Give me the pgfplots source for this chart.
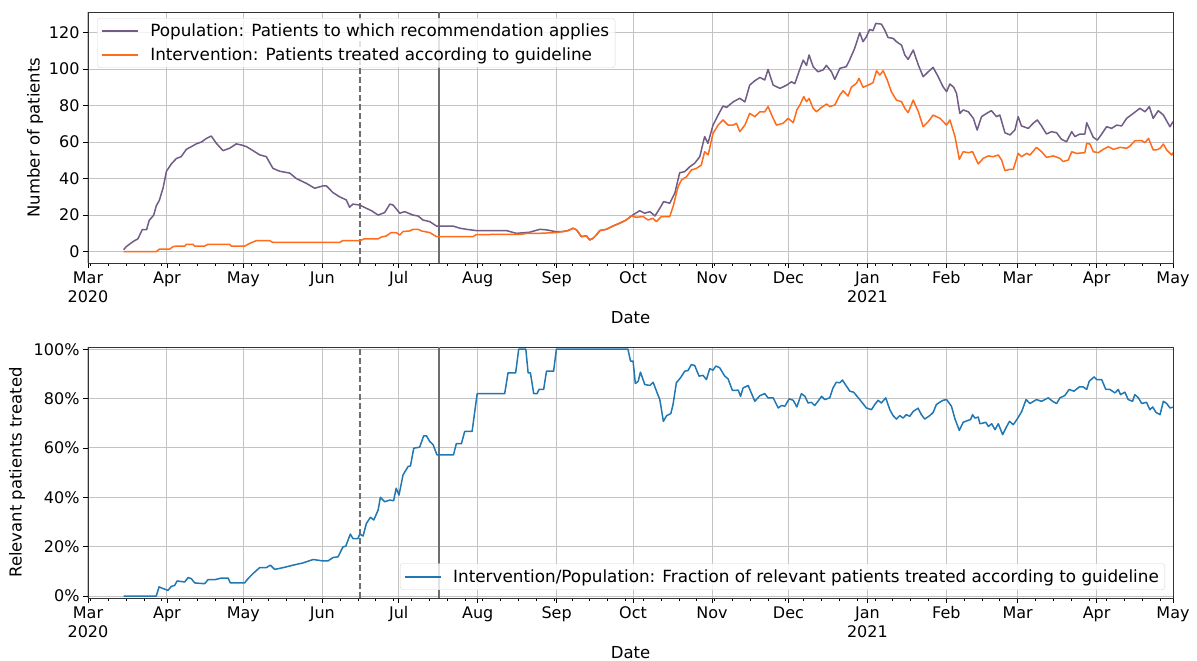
\documentclass[border=0pt]{standalone}
\usepackage{fontspec}
\setmainfont{DejaVu Sans}
\usepackage{pgfplots}
\pgfplotsset{compat=1.18}
\definecolor{popc}{RGB}{112,92,134}
\definecolor{intc}{RGB}{255,107,26}
\definecolor{fracc}{RGB}{31,119,180}
\definecolor{gridc}{RGB}{195,195,195}
\definecolor{vlc}{RGB}{110,110,110}
\definecolor{legc}{RGB}{215,215,215}

\pgfplotsset{
  myaxis/.style={
    scale only axis, width=1085pt, height=251pt,
    xmin=0, xmax=426,
    xtick={0,31,61,92,122,153,184,214,245,275,306,337,365,396,426},
    xticklabels={Mar\\2020,Apr,May,Jun,Jul,Aug,Sep,Oct,Nov,Dec,Jan\\2021,Feb,Mar,Apr,May},
    xticklabel style={align=center, anchor=north},
    minor xtick={1,8,...,425},
    xtick pos=bottom, ytick pos=left,
    tick align=outside,
    major tick length=5pt, minor tick length=3pt,
    every tick/.style={black, line width=0.8pt},
    grid=major, major grid style={gridc, line width=1pt},
    axis line style={black!80, line width=0.8pt},
    /pgf/number format/assume math mode=true,
    tick label style={font=\fontsize{16}{19}\selectfont},
    label style={font=\fontsize{16.5}{19}\selectfont},
    xlabel={Date},
    xlabel style={at={(axis description cs:0.5,-0.219)}, anchor=center},
    legend style={font=\fontsize{16.8}{20}\selectfont, draw=legc, fill=white, fill opacity=0.8, text opacity=1, rounded corners=3pt, inner xsep=4pt, inner ysep=4pt, row sep=5pt, column sep=9pt, cells={anchor=west}},
    legend image code/.code={\draw[#1, line width=2.1pt] (0pt,0pt) -- (36pt,0pt);},
    line join=round,
  }
}

\begin{document}
\begin{tikzpicture}
\useasboundingbox (0,0) rectangle (1197pt,661pt);

% ---------- top axis ----------
\begin{axis}[myaxis,
  at={(88pt,398pt)}, anchor=south west,
  ymin=-6.25, ymax=131.25,
  ytick={0,20,...,120},
  ylabel={Number of patients},
  ylabel style={at={(axis description cs:-0.0488,0.5)}, anchor=center},
  legend style={at={(axis description cs:0.0083,0.976)}, anchor=north west},
]
\addplot[vlc, dashed, dash pattern=on 6pt off 3pt, line width=1.7pt, forget plot] coordinates {(106.7,-6.25) (106.7,131.25)};
\addplot[vlc, line width=2pt, forget plot] coordinates {(138,-6.25) (138,131.25)};

\addplot[popc, line width=1.5pt] coordinates {
(14,1) (15,2.7) (17.7,5.5) (19.6,7) (21.3,12) (23,12) (24,17) (25.8,20) (26.8,25) (28,28) (29.5,35) (30.8,44) (32.7,48) (34.7,51) (36.6,52) (38.6,56) (40.6,57.5) (42.5,59) (44.5,60) (46.5,62) (48.4,63.3) (50.4,59.3) (53,55.3) (55.6,56.6) (58.2,59) (60.2,58.4) (62.2,57.5) (64.8,55.3) (67.4,53) (70,52) (72.6,45.6) (75.3,44) (79.2,43) (81.8,40) (85.7,37.4) (89,34.7) (92.3,36) (93.6,36) (96.2,32.3) (98.8,30) (101.4,28.3) (102.7,24.3) (104,26) (106.7,25.5) (109.3,23.7) (111.3,22.4) (113.9,20) (116.5,21.4) (118.5,26) (119.8,25.5) (122.4,21) (124.3,21.9) (127.6,20) (129.6,19.5) (131.5,17.3) (134.2,16.4) (136.8,14) (143.3,14) (146,12.8) (148.6,12.2) (152.5,11.5) (164.3,11.5) (168.2,10) (173.4,10.6) (177.4,12.2) (180,11.9) (183.3,11)
(186.5,11) (188.5,11.5) (190.5,12.8) (191.8,11.9) (193.7,8.2) (195.7,8.6) (197,6.4) (198.3,7.3) (199.6,9.1) (200.9,11.5) (203.5,12.2) (206.1,14) (208.7,15.5) (211.3,17.3) (213.3,19.5)
(216.6,22.4) (218.6,21) (220.6,21.9) (222.6,19.5) (224.5,23.7) (226,27.4) (228.4,26.5) (230.4,32) (232.3,43.2) (234.3,43.8) (236.3,46.5) (238.2,48.4) (240.2,52) (242.1,63) (243.4,59.3) (245.4,69.3) (247.4,74.8) (249.3,79.7) (250.7,79) (253.3,82) (255.9,84) (257.9,82) (259.8,91.2) (261.8,93.6) (263.8,95.4) (265.7,94) (267,99.8) (269,91.2) (271.7,89.4) (274.3,91.2) (276.2,93) (277.5,92)
(279.5,100) (280.8,104.9) (282.1,102) (283.1,107.7) (284.7,101.3) (286.6,98.5) (288.6,99.5) (289.9,102) (291.9,98.5) (293.2,94.3) (295.2,100.4) (297.7,101.3) (299,104.9) (301,111.3) (303,119.9) (304.3,115) (305.6,117.7) (306.9,121.7) (308.2,121) (309.3,125) (311.5,124.6) (312.8,121.4) (314.1,117.3) (316.1,116.8) (317.4,115) (319.4,113.1) (320.7,107.7) (322,105.3) (324,110.4) (326,102.2) (327.9,95.8) (329.9,98.5) (331.8,100.9) (333.8,95.8) (335.7,90.3) (337.1,87.6) (338.4,91.8) (339.9,90) (341,86.7) (342.3,75.7) (343.6,77.6) (345.6,76.6) (347.6,73) (349.1,66.6) (350.8,73.9) (352.8,75.7) (354.7,77.2) (356.7,73.9) (358,74.8) (360,65.1) (362,63.9) (363.9,66.6) (365.2,73.9) (366.5,68.8) (369.2,67.5) (371.1,70.3) (372.7,72.1) (374.4,68.8) (376.3,64.4) (378.3,65.7) (380.3,65.1) (382.2,61.5) (384.2,60.2) (386.2,65.7) (387.5,63) (389.4,64.4) (391.4,64.4) (392.1,70.6) (393.4,66.6) (394.7,62.6) (396.3,61.1) (398,64.4) (399.9,68.4) (401.9,67.5) (403.9,69.3) (405.8,68.8) (407.8,73) (410.4,75.7) (413,78.5) (415,76.6) (416.7,79.4) (418.2,73) (420.2,77.2) (422.2,74.8) (424.8,68.4) (426,71.2)
};
\addlegendentry{Population: Patients to which recommendation applies}

\addplot[intc, line width=1.5pt] coordinates {
(14,0) (26.8,0) (28,1.3) (32,1.3) (33.4,2.7) (34.7,3) (38,3) (38.6,4) (41.2,4) (41.9,3) (45.8,3) (47.1,4) (55.6,4) (56.3,3) (61.5,3) (63.5,4.5) (66.1,6) (71.3,6) (72.6,5) (98.8,5) (100,6) (106.7,6) (108.6,7) (113.9,7) (115.2,8) (117,8.5) (119,10.4) (121,10.4) (122.4,9.1) (123.7,11) (126.3,11.3) (127.6,12.2) (129.6,12.2) (130.9,11.3) (134.2,10.4) (136.8,8.2) (151.2,8.2) (152.5,9.3) (170.4,9.5) (172.4,10) (177,10) (183.9,10.4) (186.5,11) (188.5,11.5) (190.5,12.8) (191.8,11.9) (193.7,8.2) (195.7,8.6) (197,6.4) (198.3,7.3) (199.6,9.1) (200.9,11.5) (203.5,12.2) (206.1,14) (208.7,15.5) (211.3,17.3) (213.3,19.5) (215.3,18.8) (217.9,19.2) (219.9,17.3) (221.8,18.2) (223.2,16.4) (225.1,19.2) (228.4,19.2) (229.7,24.6) (231.7,35.6) (233,39.2) (235,41) (236.9,44.7) (238.9,45.6) (240.8,47.4) (242.1,54.7) (243.5,53) (245.4,64.8) (247.4,69.3) (249.3,72.1) (251.3,69.3) (253.3,69.3) (254.6,70.3) (255.9,65.7) (257.9,69.3) (259.8,75.7) (261.8,73.9) (263.8,76.6) (265.7,76.6) (267,79.4) (269,73) (270.3,69.3) (272.9,70.3) (274.9,73) (276.9,70.6) (278.3,77.6) (279.5,80.3) (281,84.9) (282.1,82.1) (283.1,83.9) (284.7,78.5) (286,76.6) (288,79) (290,80.8) (291.3,79.4) (293.2,80.3) (295.2,85.8) (296.5,88.1) (298.4,85.2) (299.7,90) (301.7,92.2) (302.7,94.9) (304.3,90) (306.3,91.2) (308.2,92.5) (309.6,99.1) (310.9,96.7) (312.2,99.1) (313.8,94) (315.4,87.6) (317.4,83) (319.4,82.1) (320.7,78.5) (322,76.1) (324,83) (326,76.6) (327.9,68.4) (329.9,71.2) (331.8,74.8) (334.5,73) (337.1,69.3) (338.4,72.1) (340.4,63) (342.1,50.5) (343.6,54.7) (345.6,54.2) (347.3,54.7) (349.5,48) (351.5,51.1) (353.5,52.4) (355.4,52) (357.4,52.9) (358.7,50.2) (360,44.3) (362,45.1) (363.3,45.1) (365.2,53.8) (366.5,52) (368.5,53.8) (369.8,52.9) (372.4,57.1) (374.4,54.7) (376.3,51.6) (379,52.4) (381.6,51.1) (382.9,49.3) (384.9,50.2) (386.2,54.7) (388.2,53.8) (391.4,54.2) (392.1,59.3) (393.4,58.9) (394.7,54.7) (396.7,54.2) (398.6,56) (400.6,57.5) (402.6,56) (405.2,57.1) (407.8,56.6) (409.1,57.8) (411.1,60.8) (413.7,60.8) (415,59.7) (416.4,62) (418.2,55.7) (419.6,55.7) (420.9,56.6) (422.2,58.9) (423.5,55.7) (425.5,52.9) (426,54.2)
};
\addlegendentry{Intervention: Patients treated according to guideline}
\end{axis}

% ---------- bottom axis ----------
\begin{axis}[myaxis,
  at={(88pt,63pt)}, anchor=south west,
  ymin=-0.8, ymax=100.9,
  ytick={0,20,...,100},
  yticklabel={\pgfmathprintnumber{\tick}\%},
  ylabel={Relevant patients treated},
  ylabel style={at={(axis description cs:-0.0654,0.5)}, anchor=center},
  legend style={at={(axis description cs:0.9926,0.032)}, anchor=south east},
]
\addplot[vlc, dashed, dash pattern=on 6pt off 3pt, line width=1.7pt, forget plot] coordinates {(106.7,-0.8) (106.7,100.9)};
\addplot[vlc, line width=2pt, forget plot] coordinates {(138,-0.8) (138,100.9)};

\addplot[fracc, line width=1.5pt] coordinates {
(14,0) (26.8,0) (27.9,3.7) (29.5,3) (31.4,2.3) (32.7,3.9) (34,4.3) (35,6.1) (38,5.7) (39.3,7.5) (40.6,7) (41.9,5.3) (45.8,5) (47.1,6.6) (49.7,6.6) (52.4,7.3) (55,7.3) (55.9,5.3) (61.5,5.3) (62.8,7) (64.8,9.1) (67.4,11.5) (70,11.5) (71.6,12.5) (73.3,10.8) (76.6,11.5) (80.5,12.5) (84.4,13.4) (88.4,14.8) (92.3,14.2) (94.2,14.2) (96.2,15.6) (98.2,15.9) (100.1,19.9) (101.2,20.2) (103,25.1) (104,23.3) (106,23.3) (106.7,25.1) (108,24.3) (109.3,29.4) (110.9,31.9) (112.2,30.8) (113.9,34.8) (114.8,40) (116.5,38.2) (118.5,38.9) (120,38.6) (121,43.7) (122.1,40.9) (123.7,49.1) (125.7,52.5) (126.6,52.7) (127.9,59.9) (130.2,60.3) (131.8,64.9) (132.9,64.9) (134.2,62.6) (135.5,61.3) (137,57.2) (143.5,57.2) (144.6,61.7) (146.6,61.7) (147.9,66.7) (150.8,66.7) (152.8,82) (163.6,82) (164.9,90.4) (167.9,90.4) (169.1,100) (171.9,100) (172.8,90.4) (173.7,90.4) (175,82) (176.3,82) (177.1,83.7) (178.9,83.7) (180,91.1) (182.8,91.1) (183.9,100) (212,100) (213,95.2) (214,95.2) (214.9,86.1) (216,87) (216.9,90.7) (218.6,85.7) (220.6,85.3) (221.9,86.6) (223.2,83) (224.5,79.6) (225.9,70.8) (227.2,73.1) (228.8,73.9) (229.7,77.6) (231,86.4) (232.6,88.4) (234.3,91.1) (235.6,91.4) (236.9,93.8) (238.2,93.4) (239.9,89.1) (241.5,89.4) (242.8,87.7) (244.1,92.1) (245.4,91.5) (246.5,93.2) (248,92.5) (250,89.1) (251.3,88) (253,83.3) (255.3,83.4) (256.2,80.9) (257.2,84.3) (259.2,85.3) (261.8,78.9) (263.8,81.2) (265.7,82) (267,80.3) (269,80.3) (271,76.2) (272.3,77.2) (273.6,76.9) (275.3,79.9) (276.9,79.3) (278.3,76.6) (280.1,82) (281.5,80.9) (282.7,78.2) (284,78.5) (285.3,77.2) (286.6,78.9) (288,80.9) (289.3,79.6) (291.2,80.3) (292.5,84.3) (293.8,86.6) (295.2,86.4) (296.2,87.5) (297.8,85) (299.1,83) (300.6,82.6) (303,79.6) (305.6,76.2) (307.6,75.5) (308.9,77.6) (310.2,79.3) (311.5,78.2) (313.2,80.3) (314.8,75.5) (316.1,73.1) (317.4,71.7) (318.7,73.1) (320,72.1) (321.3,73.5) (322.6,72.8) (324,74.8) (325.9,76.1) (327.2,73.5) (328.5,71.7) (330.5,73.1) (331.8,74.4) (333.1,77.6) (334.4,78.5) (335.7,79.3) (337.1,79.6) (339,76.9) (340.4,71.7) (342.1,67.1) (343.6,70.4) (345.6,71.2) (346.5,71.5) (347.3,73.5) (348.2,72.1) (349.5,72.5) (350.2,69.8) (351.5,70.1) (352.5,70.4) (353.5,68.7) (354.8,69.8) (356.1,67.4) (357.4,69.8) (359.1,65.4) (360.7,68.7) (361.8,70.8) (363.3,69.4) (365.3,72.5) (366.6,74.8) (368.3,79.6) (369.8,78) (372.4,79.6) (374.4,78.9) (377,80.3) (378.7,78.9) (380.3,78) (381.6,80.3) (383.5,81.2) (385.2,83.7) (387.1,83) (389.2,84.7) (390.8,84.7) (392.1,83.7) (393.1,87) (395,88.8) (396,87.7) (398,87.7) (399.6,83.7) (401.2,83.7) (403.2,82.3) (404.5,83.7) (405.4,81.6) (407.1,82.6) (408.4,79.6) (410.1,78.9) (411,81.6) (412.4,80.3) (413.7,78) (415.6,78.5) (416.9,75.5) (418,76.6) (419.3,74.4) (420.9,73.5) (422.2,78.9) (423.5,78) (424.8,76.2) (426,76.5)
};
\addlegendentry{Intervention/Population: Fraction of relevant patients treated according to guideline}
\end{axis}
\end{tikzpicture}
\end{document}
